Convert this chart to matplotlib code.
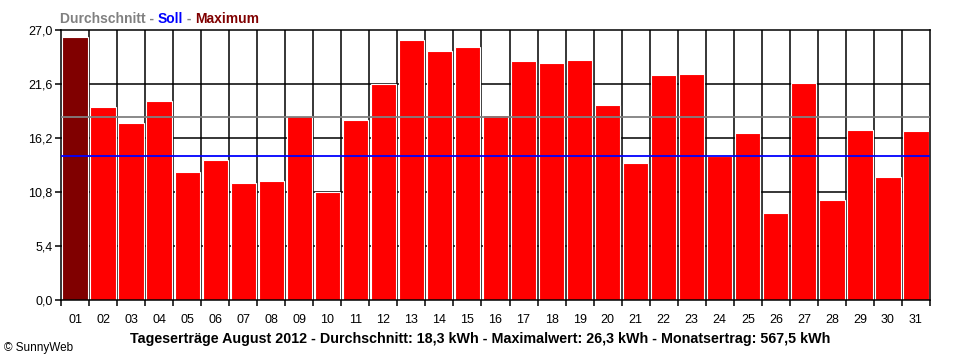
import matplotlib
matplotlib.use("Agg")
import matplotlib.pyplot as plt
import numpy as np

days = [f"{d:02d}" for d in range(1, 32)]
yields_kwh = [26.3, 19.3, 17.7, 19.9, 12.8, 14.0, 11.7, 11.9, 18.4, 10.8,
              18.0, 21.6, 26.0, 24.9, 25.3, 18.5, 23.9, 23.7, 24.0, 19.5,
              13.7, 22.5, 22.6, 14.4, 16.7, 8.7, 21.7, 10.0, 17.0, 12.3, 16.9]
average_kwh = 18.3
target_kwh = 14.4
y_ticks = [0.0, 5.4, 10.8, 16.2, 21.6, 27.0]
y_tick_labels = ["0,0", "5,4", "10,8", "16,2", "21,6", "27,0"]
title = "Tageserträge August 2012 - Durchschnitt: 18,3 kWh - Maximalwert: 26,3 kWh - Monatsertrag: 567,5 kWh"

plt.rcParams['font.family'] = ['Liberation Sans', 'DejaVu Sans']

fig = plt.figure(figsize=(9.6, 3.6), dpi=100)
ax = fig.add_axes([61/960, 1 - 300/360, (930 - 61)/960, 270/360])

x = np.arange(len(days))
imax = int(np.argmax(yields_kwh))
colors = ["#FF0000"] * len(days)
colors[imax] = "#800000"

ax.set_xlim(-0.5, len(days) - 0.5)
ax.set_ylim(0, 27.0)

# grid behind bars
for yv in y_ticks[1:-1]:
    ax.axhline(yv, color="black", lw=1.1, zorder=1)
for xb in np.arange(0.5, len(days) - 0.5, 1.0):
    ax.axvline(xb, color="black", lw=1.1, zorder=1)

ax.bar(x, yields_kwh, width=0.9, color=colors, edgecolor="white", linewidth=0.8, zorder=2)

ax.axhline(average_kwh, color="#808080", lw=1.3, zorder=3)
ax.axhline(target_kwh, color="#0000FF", lw=1.3, zorder=3)

for s in ax.spines.values():
    s.set_color("black")
    s.set_linewidth(1.1)
ax.spines['bottom'].set_visible(False)

ax.set_yticks(y_ticks)
ax.set_yticklabels(y_tick_labels, fontsize=9)
ax.tick_params(axis='y', direction='out', length=4, width=1.1, pad=2)

ax.set_xticks(np.arange(-0.5, len(days), 1.0), minor=False)
ax.set_xticklabels([""] * (len(days) + 1))
ax.tick_params(axis='x', direction='out', length=4, width=1.1)
ax.set_xticks(x, minor=True)
ax.set_xticklabels(days, minor=True, fontsize=9)
ax.tick_params(axis='x', which='minor', length=0, pad=10)
ax.axhline(0, color="black", lw=1.1, zorder=4, clip_on=False)

# legend-like header
hdr_size = 10
hdr_y = 1 - 23/360
parts = [("Durchschnitt - ", "#808080"), ("Soll", "#0000FF"),
         (" - ", "#808080"), ("Maximum", "#800000")]
fig.canvas.draw()
r = fig.canvas.get_renderer()
xpos = 60
for txt, col in parts:
    t = fig.text(xpos/960, hdr_y, txt, color=col, fontsize=hdr_size,
                 fontweight="bold", va="baseline", ha="left")
    tmp = fig.text(0, 0, txt.replace(" ", "\u00a0"), fontsize=hdr_size, fontweight="bold")
    w = tmp.get_window_extent(r).width
    tmp.remove()
    xpos += w

fig.text(480/960, 1 - 343/360, title, fontsize=10.3, fontweight="bold",
         ha="center", va="baseline", color="black")
fig.text(4/960, 1 - 351/360, "© SunnyWeb", fontsize=8.5, ha="left", va="baseline", color="black")

fig.savefig("out.png", dpi=100, facecolor="white")
